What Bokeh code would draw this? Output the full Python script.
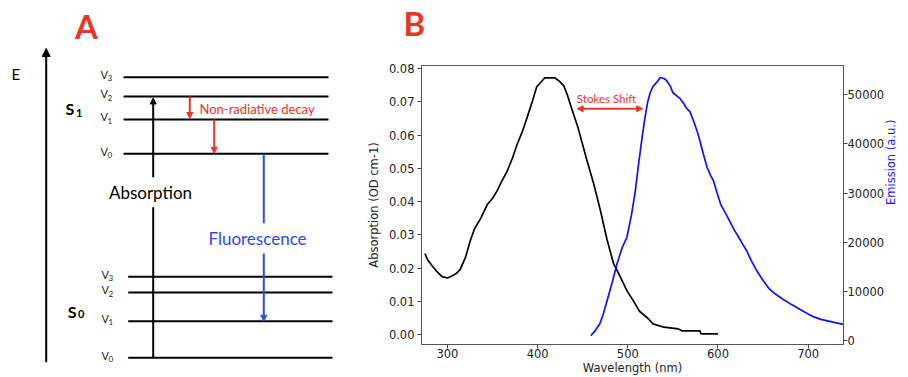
import math
from bokeh.plotting import figure
from bokeh.layouts import row
from bokeh.models import (Range1d, LinearAxis, Arrow, NormalHead, Label,
                          FixedTicker, PrintfTickFormatter)
from bokeh.core.properties import value
from bokeh.embed import file_html
from bokeh.resources import INLINE

# ---------------- Panel B data ----------------
abs_wl = [275, 278, 283, 288, 294, 300, 305, 310, 314, 320, 325, 330, 337, 344,
          350, 355, 360, 366, 372, 377, 383, 388, 394, 399, 404, 408, 414, 419,
          424, 429, 433, 437, 445, 454, 462, 469, 477, 484, 491, 499, 506, 513,
          521, 528, 540, 556, 560, 580, 581, 600]
abs_od = [0.0243, 0.0225, 0.0207, 0.0190, 0.0174, 0.0170, 0.0176, 0.0184, 0.0195,
          0.0232, 0.0280, 0.0318, 0.0350, 0.0390, 0.0410, 0.0432, 0.0460, 0.0490,
          0.0530, 0.0570, 0.0610, 0.0650, 0.0700, 0.0745, 0.0760, 0.0772, 0.0772,
          0.0772, 0.0762, 0.0748, 0.0720, 0.0686, 0.0620, 0.0530, 0.0455, 0.0380,
          0.0285, 0.0215, 0.0177, 0.0132, 0.0102, 0.0070, 0.0052, 0.0032, 0.0022,
          0.0017, 0.0011, 0.0011, 0.0002, 0.0002]

em_wl = [459, 463, 469, 473, 477, 483, 488, 494, 499, 504, 508, 512, 516, 519,
         522, 525, 528, 532, 536, 540, 543, 547, 550, 554, 558, 562, 565, 569,
         573, 577, 580, 584, 588, 592, 595, 599, 603, 608, 613, 618, 623, 627,
         632, 637, 643, 650, 657, 664, 672, 680, 687, 696, 705, 714, 724, 731,
         738, 744, 750]
em_au = [1000, 1800, 3400, 5500, 8100, 12000, 15600, 19000, 21000, 25500, 30000,
         36000, 41500, 45300, 48500, 50500, 51700, 52500, 53500, 53300, 52900,
         51800, 50400, 49800, 49200, 48200, 47300, 46500, 44600, 42500, 40600,
         37800, 35200, 33500, 32500, 30000, 27700, 26000, 24300, 22500, 21000,
         19700, 18200, 16200, 14200, 12200, 10500, 9400, 8400, 7500, 6750, 5800,
         4900, 4300, 3900, 3600, 3350, 2900, 2300]

x_ticks = [300, 400, 500, 600, 700]
abs_ticks = [0.00, 0.01, 0.02, 0.03, 0.04, 0.05, 0.06, 0.07, 0.08]
em_ticks = [0, 10000, 20000, 30000, 40000, 50000]

# ---------------- Panel A data (diagram energy units) ----------------
s1_levels = [223.7, 258.0, 281.0, 300.3]   # v0..v3
s0_levels = [19.7, 56.3, 85.0, 100.7]      # v0..v3
vib_subs = ["0", "1", "2", "3"]

RED = "#e8352a"
BLUE_TXT = "#2a48f5"
BLUE_LN = "#2b4cf0"
FONT_A = "Lato"
FONT_B = "DejaVu Sans"

# =============== Panel A ===============
pa = figure(width=350, height=377, x_range=Range1d(0, 350), y_range=Range1d(0, 377),
            x_axis_type=None, y_axis_type=None, output_backend="svg",
            toolbar_location=None, min_border=0)
pa.frame_align = False
pa.grid.visible = False
pa.outline_line_color = None

pa.segment(x0=[123] * 4, y0=s1_levels, x1=[328] * 4, y1=s1_levels,
           line_color="black", line_width=2)
pa.segment(x0=[127.7] * 4, y0=s0_levels, x1=[332] * 4, y1=s0_levels,
           line_color="black", line_width=2)

for levels, xr in ((s1_levels, 107.5), (s0_levels, 108.5)):
    pa.text(x=[xr] * 4, y=[e + 2.7 for e in levels], text=["V"] * 4,
            text_align="right", text_baseline="middle", text_font_size="11px",
            text_font=value(FONT_A), text_color="#222222")
    pa.text(x=[xr - 0.5] * 4, y=[e - 1.1 for e in levels], text=vib_subs,
            text_align="left", text_baseline="middle", text_font_size="8px",
            text_font=value(FONT_A), text_color="#222222")

# S1 / S0 labels
pa.text(x=[65, 67.3], y=[268.7, 66.5], text=["S", "S"], text_align="left",
        text_baseline="middle", text_font_size="16px", text_font=value(FONT_A),
        text_font_style="bold", text_color="black")
pa.text(x=[75.5, 77.5], y=[265, 63.7], text=["1", "0"], text_align="left",
        text_baseline="middle", text_font_size="11px", text_font=value(FONT_A),
        text_font_style="bold", text_color="black")

# Energy axis
pa.add_layout(Arrow(x_start=45.7, y_start=15.3, x_end=45.7, y_end=329,
                    line_width=2, line_color="black",
                    end=NormalHead(size=8, fill_color="black", line_color="black")))
pa.add_layout(Label(x=11, y=303.5, text="E", text_font=FONT_A, text_font_size="15px",
                    text_color="black", text_baseline="middle"))

# Absorption arrow
pa.segment(x0=[152.7], y0=[s0_levels[0]], x1=[152.7], y1=[170.3],
           line_color="black", line_width=2)
pa.add_layout(Arrow(x_start=152.7, y_start=200.3, x_end=152.7, y_end=s1_levels[2] - 1.5,
                    line_width=2, line_color="black",
                    end=NormalHead(size=6, fill_color="black", line_color="black")))
pa.add_layout(Label(x=150, y=184.7, text="Absorption", text_font=FONT_A,
                    text_font_size="17px", text_color="black",
                    text_align="center", text_baseline="middle"))

# Non-radiative decay
pa.add_layout(Arrow(x_start=189.3, y_start=s1_levels[2], x_end=189.3, y_end=s1_levels[1] + 1,
                    line_width=2, line_color=RED,
                    end=NormalHead(size=6, fill_color=RED, line_color=RED)))
pa.add_layout(Arrow(x_start=213.7, y_start=s1_levels[1], x_end=213.7, y_end=s1_levels[0] + 0.5,
                    line_width=2, line_color=RED,
                    end=NormalHead(size=6, fill_color=RED, line_color=RED)))
pa.add_layout(Label(x=199, y=269, text="Non-radiative decay", text_font=FONT_A,
                    text_font_size="13px", text_color=RED,
                    text_align="left", text_baseline="middle"))

# Fluorescence
pa.segment(x0=[263.3], y0=[s1_levels[0]], x1=[263.3], y1=[154.3],
           line_color=BLUE_LN, line_width=2)
pa.add_layout(Arrow(x_start=263.3, y_start=124, x_end=263.3, y_end=s0_levels[1],
                    line_width=2, line_color=BLUE_LN,
                    end=NormalHead(size=6, fill_color=BLUE_LN, line_color=BLUE_LN)))
pa.add_layout(Label(x=257, y=139, text="Fluorescence", text_font=FONT_A,
                    text_font_size="17px", text_color=BLUE_TXT,
                    text_align="center", text_baseline="middle"))

pa.add_layout(Label(x=86, y=351.5, text="A", text_font=FONT_A, text_font_size="33px",
                    text_font_style="bold", text_color=RED,
                    text_align="center", text_baseline="middle"))

# =============== Panel B ===============
# frame: x 421..844, y 64..344 (pixel) -> ranges chosen so ticks sit where the reference has them
pb = figure(width=558, height=377, x_range=Range1d(271.2, 739.2),
            y_range=Range1d(-0.0030, 0.0809), output_backend="svg",
            toolbar_location=None, min_border_left=71, min_border_right=64,
            min_border_top=64, min_border_bottom=33,
            title="B")
pb.frame_align = False
pb.title.text_font = FONT_A
pb.title.text_font_size = "33px"
pb.title.text_font_style = "bold"
pb.title.text_color = RED
pb.title.align = "left"
pb.title.offset = -18
pb.title.standoff = 0

pb.extra_y_ranges = {"em": Range1d(-811, 55940)}
pb.grid.visible = False
pb.outline_line_color = "#555555"
pb.background_fill_color = "white"

pb.line(abs_wl, abs_od, line_color="black", line_width=1.7)
pb.line(em_wl, em_au, line_color="#1010ff", line_width=1.7, y_range_name="em")

bottom = pb.below[0]
left = pb.left[0]
right = LinearAxis(y_range_name="em")
pb.add_layout(right, "right")

bottom.ticker = FixedTicker(ticks=x_ticks)
left.ticker = FixedTicker(ticks=abs_ticks)
left.formatter = PrintfTickFormatter(format="%.2f")
right.ticker = FixedTicker(ticks=em_ticks)
right.formatter = PrintfTickFormatter(format="%d")

for ax in (bottom, left, right):
    ax.axis_line_color = "#555555"
    ax.major_tick_line_color = "#444444"
    ax.major_tick_out = 4
    ax.major_tick_in = 0
    ax.minor_tick_out = 0
    ax.minor_tick_in = 0
    ax.major_label_text_font = FONT_B
    ax.major_label_text_font_size = "11.5px"
    ax.major_label_text_color = "#222222"
    ax.major_label_standoff = 3
    ax.axis_label_text_font = FONT_B
    ax.axis_label_text_font_size = "11.5px"
    ax.axis_label_text_font_style = "normal"
    ax.axis_label_text_color = "#222222"

left.axis_label = "Absorption (OD cm-1)"
left.axis_label_standoff = 5

bottom.axis_label = "Wavelength (nm)"
bottom.major_label_standoff = 0
bottom.axis_label_standoff = 0

right.major_label_standoff = 0
right.axis_label = "Emission (a.u.)"
right.axis_label_text_color = "#1a1aff"
right.axis_label_standoff = 4
right.axis_label_orientation = math.pi / 2

# invisible spacer axis between the frame and the "B" title
spacer = LinearAxis(ticker=FixedTicker(ticks=[]), axis_line_color=None,
                    major_tick_line_color=None, minor_tick_line_color=None,
                    major_tick_out=0, major_tick_in=0, minor_tick_out=0,
                    minor_tick_in=0, major_label_standoff=0,
                    axis_label=" ", axis_label_standoff=2,
                    axis_label_text_font=FONT_B, axis_label_text_font_size="15px")
pb.add_layout(spacer, "above")

# Stokes shift
pb.add_layout(Label(x=443.5, y=0.07109, text="Stokes Shift", text_font=FONT_A,
                    text_font_size="11.5px", text_color=RED,
                    text_align="left", text_baseline="middle"))
pb.add_layout(Arrow(x_start=443.8, y_start=0.0679, x_end=516.5, y_end=0.0679,
                    line_width=2, line_color=RED,
                    start=NormalHead(size=6, fill_color=RED, line_color=RED),
                    end=NormalHead(size=6, fill_color=RED, line_color=RED)))

layout = row(pa, pb)
open("out.html", "w").write(file_html(layout, INLINE))
